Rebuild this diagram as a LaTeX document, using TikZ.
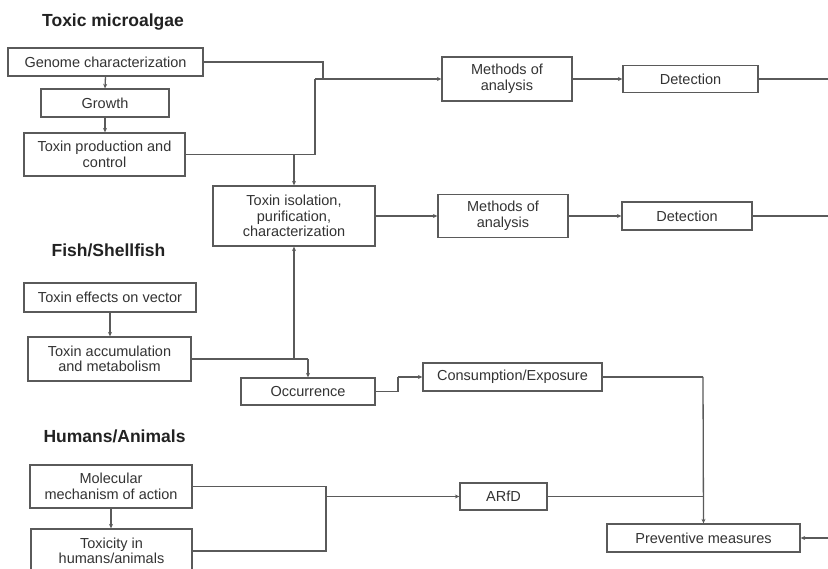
\documentclass[tikz,border=0pt]{standalone}
\usepackage{fontspec}
\setmainfont{Liberation Sans}
\usetikzlibrary{arrows.meta}
\definecolor{linec}{HTML}{5A5A5A}
\definecolor{textc}{HTML}{333333}
\definecolor{titlec}{HTML}{222222}
\tikzset{
  box/.style={draw=linec, line width=1.3pt, inner sep=0pt, align=center, text=textc,
    font=\fontsize{14.5}{15.6}\selectfont},
  ttl/.style={text=titlec, font=\fontsize{17.5}{20}\selectfont\bfseries, inner sep=0pt},
  conn/.style={draw=linec, line width=1.3pt},
  arr/.style={conn, -{Stealth[length=4.5pt,width=4pt]}},
}
\begin{document}
\begin{tikzpicture}[x=1pt,y=-1pt]
\useasboundingbox[fill=white] (0,0) rectangle (828,569);

% titles
\node[ttl] (t1) at (113,22) {Toxic microalgae};
\node[ttl] (t2) at (108.5,250) {Fish/Shellfish};
\node[ttl] (t3) at (114.5,436) {Humans/Animals};

% boxes
\node[box, minimum width=195, minimum height=28] (genome) at (105.5,62) {Genome characterization};
\node[box, minimum width=128, minimum height=28] (growth) at (105,103) {Growth};
\node[box, minimum width=161, minimum height=43] (toxprod) at (104.5,154.5) {Toxin production and\\control};
\node[box, minimum width=130, minimum height=44] (meth1) at (507,79) {Methods of\\analysis};
\node[box, minimum width=135, minimum height=27] (det1) at (690.5,79) {Detection};
\node[box, minimum width=162, minimum height=60] (iso) at (294,216) {Toxin isolation,\\purification,\\characterization};
\node[box, minimum width=130, minimum height=43] (meth2) at (503,216) {Methods of\\analysis};
\node[box, minimum width=130, minimum height=28] (det2) at (687,216) {Detection};
\node[box, minimum width=172, minimum height=29] (effects) at (110,297.5) {Toxin effects on vector};
\node[box, minimum width=163, minimum height=44] (accum) at (109.5,359) {Toxin accumulation\\and metabolism};
\node[box, minimum width=134, minimum height=27] (occ) at (308,391.5) {Occurrence};
\node[box, minimum width=179, minimum height=28] (cons) at (512.5,377) {Consumption/Exposure};
\node[box, minimum width=162, minimum height=43] (mol) at (111,486.5) {Molecular\\mechanism of action};
\node[box, minimum width=161, minimum height=44] (toxic) at (111.5,551) {Toxicity in\\humans/animals};
\node[box, minimum width=87, minimum height=27] (arfd) at (503.5,496.5) {ARfD};
\node[box, minimum width=193, minimum height=28] (prev) at (703.5,538) {Preventive measures};

% helper coordinates
\coordinate (jA) at (323,79);
\coordinate (jB) at (315,79);
\coordinate (jC) at (315,154.5);
\coordinate (jD) at (294,154.5);
\coordinate (jE) at (294,359);
\coordinate (jF) at (308,359);
\coordinate (jG) at (398,391.5);
\coordinate (jH) at (398,377);
\coordinate (jI) at (703,377);
\coordinate (jJ) at (703,496.5);
\coordinate (jK) at (326,486.5);
\coordinate (jL) at (326,551);
\coordinate (jM) at (326,496.5);
\coordinate (edge1) at (831,79);
\coordinate (edge2) at (831,216);
\coordinate (edge3) at (831,538);

% toxic microalgae
\draw[arr] (genome.south) -- (growth.north);
\draw[arr] (growth.south) -- (growth.south |- toxprod.north);
\draw[conn] (genome.east) -| (jA);
\draw[conn] (toxprod.east) -- (jC) -- (jB);
\draw[arr] (jB) -- (meth1.west);
\draw[arr] (jD) -- (iso.north);
\draw[arr] (meth1.east) -- (det1.west);
\draw[arr] (iso.east) -- (meth2.west);
\draw[arr] (meth2.east) -- (det2.west);
\draw[conn] (det1.east) -- (edge1) -- (edge3);
\draw[conn] (det2.east) -- (edge2);
\draw[arr] (edge3) -- (prev.east);

% fish/shellfish
\draw[arr] (effects.south) -- (effects.south |- accum.north);
\draw[conn] (accum.east) -- (jF);
\draw[arr] (jF) -- (occ.north);
\draw[arr] (jE) -- (iso.south);
\draw[conn] (occ.east) -- (jG) -- (jH);
\draw[arr] (jH) -- (cons.west);
\draw[conn] (cons.east) -- (jI);
\draw[arr] (jI) -- (prev.north);
\draw[conn] (arfd.east) -- (jJ);

% humans/animals
\draw[arr] (mol.south) -- (mol.south |- toxic.north);
\draw[conn] (mol.east) -- (jK) -- (jL) -- (toxic.east);
\draw[arr] (jM) -- (arfd.west);
\end{tikzpicture}
\end{document}
